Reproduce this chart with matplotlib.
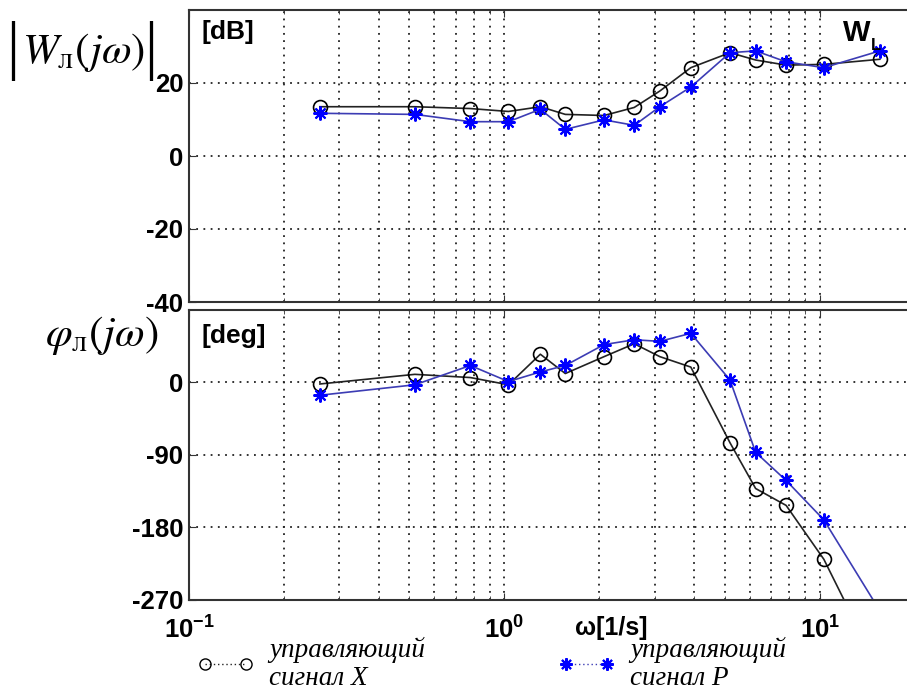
import matplotlib
matplotlib.use('Agg')
import matplotlib.pyplot as plt
from matplotlib.lines import Line2D
from matplotlib.ticker import NullFormatter

plt.rcParams['font.family'] = 'Liberation Sans'
plt.rcParams['axes.unicode_minus'] = False
plt.rcParams['mathtext.fontset'] = 'custom'
plt.rcParams['mathtext.rm'] = 'Liberation Sans:bold'
plt.rcParams['mathtext.bf'] = 'Liberation Sans:bold'

# частота, 1/s
omega = [0.26, 0.52, 0.78, 1.03, 1.30, 1.56, 2.07, 2.58, 3.11, 3.90, 5.19, 6.26, 7.82, 10.3, 15.5]
# амплитуда, dB (сигнал X / сигнал P)
amp_x = [13.5, 13.5, 13.0, 12.2, 13.5, 11.4, 11.1, 13.3, 17.8, 24.2, 28.3, 26.3, 24.9, 25.1, 26.5]
amp_p = [11.7, 11.4, 9.4, 9.4, 12.8, 7.3, 9.9, 8.4, 13.5, 18.9, 28.3, 28.8, 25.8, 24.2, 28.8]
# фаза, deg
phase_x = [-2, 10, 6, -3, 35, 11, 32, 48, 32, 19, -75, -132, -153, -220, -360]
phase_p = [-16, -3, 21, 1, 13, 21, 47, 53, 51, 61, 3, -87, -122, -171, -284]

mag_ticks = [-40, -20, 0, 20]
phase_ticks = [-270, -180, -90, 0]
freq_ticks = [0.1, 1, 10]
freq_labels = [r'$\mathbf{10^{-1}}$', r'$\mathbf{10^{0}}$', r'$\mathbf{10^{1}}$']

W, H = 907, 693
fig = plt.figure(figsize=(W / 100, H / 100), dpi=100)
left = 189 / W
ax1 = fig.add_axes([left, 1 - 302 / H, 1 - left, (302 - 10) / H])
ax2 = fig.add_axes([left, 1 - 599.5 / H, 1 - left, (599.5 - 310) / H])

dots = (0, (1, 3))
for ax in (ax1, ax2):
    ax.set_xscale('log')
    ax.set_xlim(0.1, 18.9)
    ax.grid(True, which='major', ls=dots, lw=1.3, color='#222222')
    ax.grid(True, which='minor', axis='x', ls=dots, lw=1.3, color='#222222')
    ax.tick_params(which='both', direction='in', top=True, right=False,
                   labelsize=18.5, pad=4, color='#333333')
    ax.tick_params(which='major', length=5)
    ax.tick_params(which='minor', length=3)
    ax.xaxis.set_minor_formatter(NullFormatter())
    ax.spines['right'].set_visible(False)
    for s in ax.spines.values():
        s.set_linewidth(1.5)
        s.set_color('#333333')

ax1.set_ylim(-40, 40)
ax1.set_yticks(mag_ticks, labels=[str(v) for v in mag_ticks], fontweight='bold')
ax1.set_xticks(freq_ticks)
ax1.tick_params(labelbottom=False)
ax2.set_ylim(-270, 90)
ax2.set_yticks(phase_ticks, labels=[str(v) for v in phase_ticks], fontweight='bold')
ax2.set_xticks(freq_ticks, labels=freq_labels)
ax2.tick_params(axis='x', pad=12)

black_style = dict(color='#222222', lw=1.2, marker='o', ms=10, mfc='none', mec='k', mew=1.2)
blue_style = dict(color='#3c3cb4', lw=1.2, marker=(8, 2, 0), ms=10, mec='#0000ff', mew=1.5)

ax1.plot(omega, amp_x, **black_style)
ax1.plot(omega, amp_p, **blue_style)
ax2.plot(omega, phase_x, **black_style)
ax2.plot(omega, phase_p, **blue_style)

ax1.text(0.018, 0.965, '[dB]', transform=ax1.transAxes, va='top', ha='left',
         fontsize=19, fontweight='bold')
ax2.text(0.018, 0.95, '[deg]', transform=ax2.transAxes, va='top', ha='left',
         fontsize=19, fontweight='bold')
fig.text(843 / W, 1 - 41 / H, 'W', fontsize=21, fontweight='bold', va='baseline')
fig.text(871 / W, 1 - 50 / H, 'L', fontsize=12, fontweight='bold', va='baseline')
fig.text(575 / W, 1 - 635 / H, 'ω[1/s]', fontsize=18, fontweight='bold', va='baseline')

# подписи осей слева
serif = dict(family='Liberation Serif', ha='left', va='baseline')
fig.text(6 / W, 1 - 67 / H, '|', fontsize=47, **serif)
fig.text(22 / W, 1 - 63 / H, r'$W_{\mathrm{л}}(j\omega)$', math_fontfamily='stix',
         fontsize=31, **serif)
fig.text(144 / W, 1 - 67 / H, '|', fontsize=47, **serif)
fig.text(45 / W, 1 - 346 / H, r'$\varphi_{\mathrm{л}}(j\omega)$', math_fontfamily='stix',
         fontsize=31, **serif)

# легенда
prop = {'family': 'Liberation Serif', 'style': 'italic', 'size': 19.5}
h1 = Line2D([], [], color='#222222', ls=(0, (1, 2)), lw=1, marker='o', ms=8, mfc='none', mec='k')
h2 = Line2D([], [], color='#3c3cb4', ls=(0, (1, 2)), lw=1, marker=(8, 2, 0), ms=9, mec='#0000ff', mew=1.5)
for h, lab, x0 in [(h1, 'управляющий\nсигнал X', 197), (h2, 'управляющий\nсигнал P', 558)]:
    leg = fig.legend([h], [lab], loc='upper left', bbox_to_anchor=(x0 / W, 1 - 637 / H),
                     frameon=False, numpoints=2, handlelength=2.1, handletextpad=0.55,
                     borderpad=0, borderaxespad=0, prop=prop)
    for t in leg.get_texts():
        t.set_linespacing(1.15)

fig.savefig('out.png', dpi=100)
